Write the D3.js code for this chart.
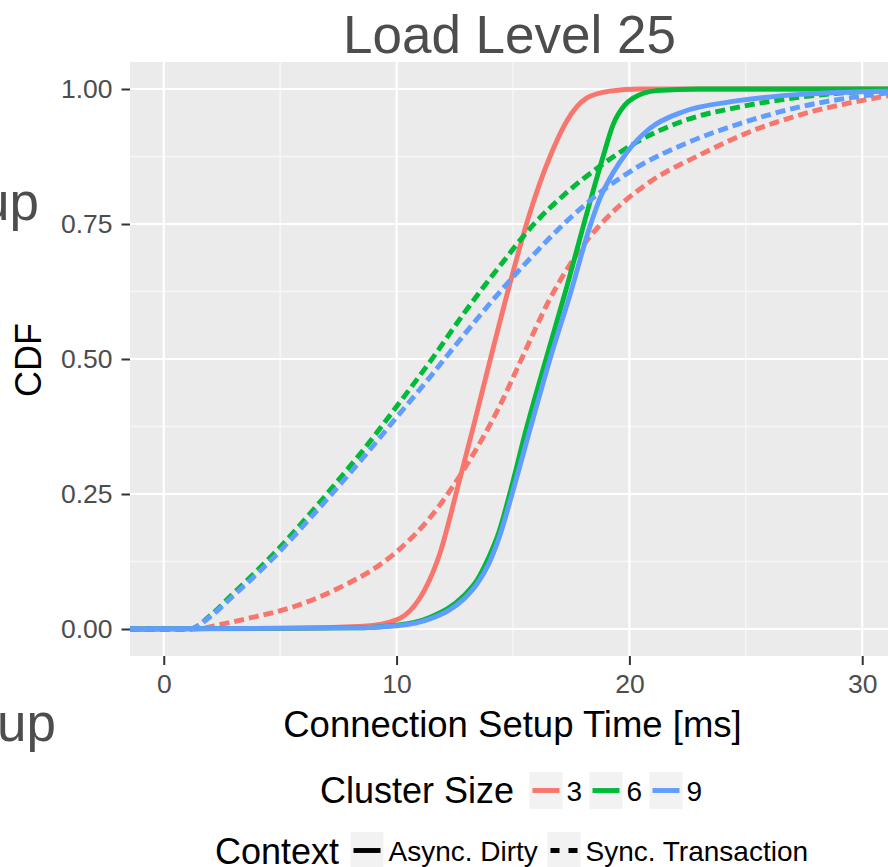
<!DOCTYPE html>
<html>
<head>
<meta charset="utf-8">
<script src="https://cdn.jsdelivr.net/npm/d3@7"></script>
<style>
  html, body { margin: 0; padding: 0; background: #fff; }
  svg { display: block; }
  text { font-family: "Liberation Sans", Arial, Helvetica, sans-serif; }
</style>
</head>
<body>
<svg id="chart" width="888" height="867"></svg>
<script>
// ---------------- data ----------------
const titleText = "Load Level 25";
const xTitle = "Connection Setup Time [ms]";
const yTitle = "CDF";
const clusterSizes = ["3", "6", "9"];
const clusterColors = ["#F8766D", "#00BA38", "#619CFF"];
const contexts = ["Async. Dirty", "Sync. Transaction"];
const xTicks = [0, 10, 20, 30];
const yTicks = [0, 0.25, 0.5, 0.75, 1];
const yTickLabels = ["0.00", "0.25", "0.50", "0.75", "1.00"];

// [time ms, CDF]
const async3 = [[-1.45,0],[5,0.001],[8.6,0.005],[10.0,0.017],[10.6,0.035],[11.2,0.072],[11.86,0.14],[12.6,0.258],[13.3,0.375],[14.0,0.495],[14.87,0.64],[15.65,0.76],[16.59,0.875],[17.3,0.94],[18.16,0.983],[19.16,0.996],[20.45,1.0],[31.15,1.0]];
const sync3 = [[-1.45,0],[1.3,0],[2.5,0.009],[3.55,0.019],[5.7,0.043],[7.85,0.083],[8.9,0.108],[10.0,0.143],[11.45,0.207],[12.9,0.296],[14.43,0.413],[15.43,0.506],[16.58,0.611],[18.01,0.71],[19.45,0.779],[20.88,0.828],[23.03,0.878],[25.18,0.921],[27.33,0.952],[31.15,0.988]];
const async6 = [[-1.45,0],[8,0.002],[10.0,0.007],[11.45,0.022],[12.9,0.062],[13.45,0.09],[13.93,0.13],[14.4,0.18],[14.87,0.252],[15.6,0.375],[16.42,0.5],[17.32,0.635],[18.09,0.757],[18.87,0.875],[19.3,0.934],[19.8,0.97],[20.16,0.983],[21.17,0.997],[23,1.0],[31.15,1.0]];
const sync6 = [[-1.45,0],[1.1,0],[2.0,0.025],[2.85,0.06],[4.85,0.145],[6.45,0.222],[7.72,0.287],[8.58,0.332],[10.0,0.412],[11.57,0.503],[12.9,0.585],[14.43,0.672],[15.86,0.748],[17.3,0.808],[18.73,0.857],[20.45,0.905],[22.46,0.943],[24.75,0.967],[27.33,0.985],[31.15,0.998]];
const async9 = [[-1.45,0],[8,0.002],[10.0,0.006],[11.45,0.019],[12.9,0.056],[13.45,0.083],[13.95,0.12],[14.45,0.175],[14.96,0.25],[15.7,0.365],[16.59,0.5],[17.49,0.625],[18.3,0.745],[18.73,0.797],[19.3,0.845],[19.88,0.882],[20.88,0.927],[22.31,0.958],[24.46,0.977],[27.33,0.99],[31.15,0.996]];
const sync9 = [[-1.45,0],[1.1,0],[2.0,0.023],[2.85,0.056],[4.85,0.138],[6.45,0.213],[7.72,0.275],[8.58,0.318],[10.0,0.392],[11.5,0.47],[12.0,0.497],[12.9,0.545],[14.43,0.624],[15.86,0.692],[17.3,0.755],[18.73,0.808],[20.45,0.858],[22.46,0.9],[24.75,0.936],[27.33,0.967],[31.15,0.993]];

const seriesList = [
  { cluster: "3", context: "Async. Dirty", values: async3 },
  { cluster: "3", context: "Sync. Transaction", values: sync3 },
  { cluster: "6", context: "Async. Dirty", values: async6 },
  { cluster: "6", context: "Sync. Transaction", values: sync6 },
  { cluster: "9", context: "Async. Dirty", values: async9 },
  { cluster: "9", context: "Sync. Transaction", values: sync9 }
];

// ---------------- layout ----------------
const svg = d3.select("#chart");
const P = { left: 130, right: 889, top: 62, bottom: 656 };
const x = d3.scaleLinear().domain([-1.45, 31.15]).range([P.left, P.right]);
const y = d3.scaleLinear().domain([-0.05, 1.05]).range([P.bottom, P.top]);
const color = d3.scaleOrdinal().domain(clusterSizes).range(clusterColors);
const dash = d3.scaleOrdinal().domain(contexts).range(["none", "10,5"]);
const LW = 4.9;

// panel
svg.append("rect").attr("x", P.left).attr("y", P.top)
  .attr("width", P.right - P.left).attr("height", P.bottom - P.top)
  .attr("fill", "#EBEBEB");

// grid
const minorX = [5, 15, 25];
const minorY = [0.125, 0.375, 0.625, 0.875];
const g = svg.append("g");
g.selectAll("line.mx").data(minorX).join("line")
  .attr("x1", d => x(d)).attr("x2", d => x(d)).attr("y1", P.top).attr("y2", P.bottom)
  .attr("stroke", "#F7F7F7").attr("stroke-width", 1.4);
g.selectAll("line.my").data(minorY).join("line")
  .attr("y1", d => y(d)).attr("y2", d => y(d)).attr("x1", P.left).attr("x2", P.right)
  .attr("stroke", "#F7F7F7").attr("stroke-width", 1.4);
g.selectAll("line.gx").data(xTicks).join("line")
  .attr("x1", d => x(d)).attr("x2", d => x(d)).attr("y1", P.top).attr("y2", P.bottom)
  .attr("stroke", "#FFFFFF").attr("stroke-width", 2.2);
g.selectAll("line.gy").data(yTicks).join("line")
  .attr("y1", d => y(d)).attr("y2", d => y(d)).attr("x1", P.left).attr("x2", P.right)
  .attr("stroke", "#FFFFFF").attr("stroke-width", 2.2);

// clip
svg.append("clipPath").attr("id", "clip").append("rect")
  .attr("x", P.left).attr("y", P.top).attr("width", P.right - P.left).attr("height", P.bottom - P.top);

const line = d3.line().x(d => x(d[0])).y(d => y(d[1])).curve(d3.curveMonotoneX);
svg.append("g").attr("clip-path", "url(#clip)")
  .selectAll("path").data(seriesList).join("path")
  .attr("d", d => line(d.values))
  .attr("fill", "none")
  .attr("stroke", d => color(d.cluster))
  .attr("stroke-width", LW)
  .attr("stroke-dasharray", d => dash(d.context))
  .attr("stroke-linejoin", "round");

// axes
const tickColor = "#333333";
const labelColor = "#4D4D4D";
const xAxis = d3.axisBottom(x).tickValues(xTicks).tickSize(9).tickPadding(9).tickFormat(d3.format("d"));
const gx = svg.append("g").attr("transform", `translate(0,${P.bottom})`).call(xAxis);
gx.select(".domain").remove();
gx.selectAll(".tick line").attr("stroke", tickColor).attr("stroke-width", 2);
gx.selectAll(".tick text").attr("fill", labelColor).attr("font-size", 26.5)
  .attr("font-family", "Liberation Sans, Arial, sans-serif");

const yAxis = d3.axisLeft(y).tickValues(yTicks).tickSize(8.5).tickPadding(9)
  .tickFormat((d, i) => yTickLabels[i]);
const gy = svg.append("g").attr("transform", `translate(${P.left},0)`).call(yAxis);
gy.select(".domain").remove();
gy.selectAll(".tick line").attr("stroke", tickColor).attr("stroke-width", 2);
gy.selectAll(".tick text").attr("fill", labelColor).attr("font-size", 26.5)
  .attr("font-family", "Liberation Sans, Arial, sans-serif");

// titles
svg.append("text").attr("x", 509.5).attr("y", 53).attr("text-anchor", "middle")
  .attr("font-size", 53).attr("fill", "#4D4D4D").text(titleText);
svg.append("text").attr("x", 512.5).attr("y", 737).attr("text-anchor", "middle")
  .attr("font-size", 36.5).attr("fill", "#000").text(xTitle);
svg.append("text").attr("transform", "translate(41,360) rotate(-90)").attr("text-anchor", "middle")
  .attr("font-size", 36).attr("fill", "#000").text(yTitle);

// cut-off neighbouring labels
svg.append("text").attr("x", 39).attr("y", 220).attr("text-anchor", "end")
  .attr("font-size", 53).attr("fill", "#4D4D4D").text("Setup");
svg.append("text").attr("x", 56).attr("y", 741).attr("text-anchor", "end")
  .attr("font-size", 53).attr("fill", "#4D4D4D").text("Setup");

// legend: Cluster Size
const legC = svg.append("g");
legC.append("text").attr("x", 320).attr("y", 803).attr("font-size", 36).attr("fill", "#000").text("Cluster Size");
const keyX = [529.5, 589.5, 649.5];
clusterSizes.forEach((c, i) => {
  legC.append("rect").attr("x", keyX[i]).attr("y", 772).attr("width", 33).attr("height", 37).attr("fill", "#F2F2F2");
  legC.append("line").attr("x1", keyX[i] + 3).attr("x2", keyX[i] + 30).attr("y1", 790.5).attr("y2", 790.5)
    .attr("stroke", color(c)).attr("stroke-width", LW);
  legC.append("text").attr("x", keyX[i] + 37).attr("y", 801).attr("font-size", 28).attr("fill", "#000").text(c);
});

// legend: Context
const legX = svg.append("g");
legX.append("text").attr("x", 215).attr("y", 864).attr("font-size", 36).attr("fill", "#000").text("Context");
const ctxKeyX = [350.5, 547.5];
contexts.forEach((c, i) => {
  legX.append("rect").attr("x", ctxKeyX[i]).attr("y", 832).attr("width", 33).attr("height", 37).attr("fill", "#F2F2F2");
  legX.append("line").attr("x1", ctxKeyX[i] + 3).attr("x2", ctxKeyX[i] + 30).attr("y1", 850.5).attr("y2", 850.5)
    .attr("stroke", "#000").attr("stroke-width", LW).attr("stroke-dasharray", c === contexts[1] ? "9,9" : "none");
  legX.append("text").attr("x", ctxKeyX[i] + 38).attr("y", 861).attr("font-size", 28).attr("fill", "#000").text(c);
});
</script>
</body>
</html>
